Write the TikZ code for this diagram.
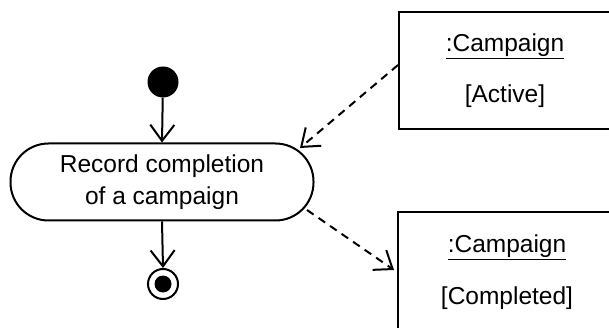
\documentclass[tikz,border=0pt]{standalone}
\usepackage{fontspec}
\setmainfont{Liberation Sans}
\usetikzlibrary{arrows.meta}
\begin{document}
\begin{tikzpicture}[x=1pt,y=-1pt,
  line/.style={line width=2pt},
  flow/.style={line, -{Straight Barb[length=16pt,width=24pt,line width=2pt]}},
  dep/.style={line, dash pattern=on 8pt off 6pt, -{Straight Barb[length=16pt,width=24pt,line width=2pt]}},
  txt/.style={font=\fontsize{24.5}{32}\selectfont, inner sep=0pt, align=center},
  objbox/.style={draw, line width=2pt, inner sep=0pt}]
\useasboundingbox (0,0) rectangle (609,328);
\clip (0,0) rectangle (609,328);
\fill[white] (0,0) rectangle (609,328);
% initial node
\node[circle, fill=black, minimum size=31pt, inner sep=0pt] (init) at (163,82) {};
% action
\node[draw, line, rectangle, rounded corners=38pt, minimum width=303pt, minimum height=77pt,
      txt] (act) at (162,182) {Record completion\\of a campaign};
% final node
\node[circle, draw, line width=2pt, minimum size=30pt, inner sep=0pt] (fin) at (163,284) {};
\node[circle, fill=black, minimum size=17pt, inner sep=0pt] (fincore) at (fin) {};
% object boxes
\node[objbox, minimum width=250pt, minimum height=117pt] (box1) at (524,71) {};
\node[objbox, minimum width=250pt, minimum height=140pt] (box2) at (523,282) {};
\node[txt] (c1) at (505,46) {\underline{:Campaign}};
\node[txt] (s1) at (505,96) {[Active]};
\node[txt] (c2) at (507,247) {\underline{:Campaign}};
\node[txt] (s2) at (507,298) {[Completed]};
% connectors
\coordinate (a1s) at (398,65);
\coordinate (a1e) at (300,148);
\coordinate (a2s) at (307,210);
\coordinate (a2e) at (394,270);
\draw[flow] (init) -- (act.north);
\draw[flow] (act.south) -- (fin.north);
\draw[dep] (a1s) -- (a1e);
\draw[dep] (a2s) -- (a2e);
\end{tikzpicture}
\end{document}
